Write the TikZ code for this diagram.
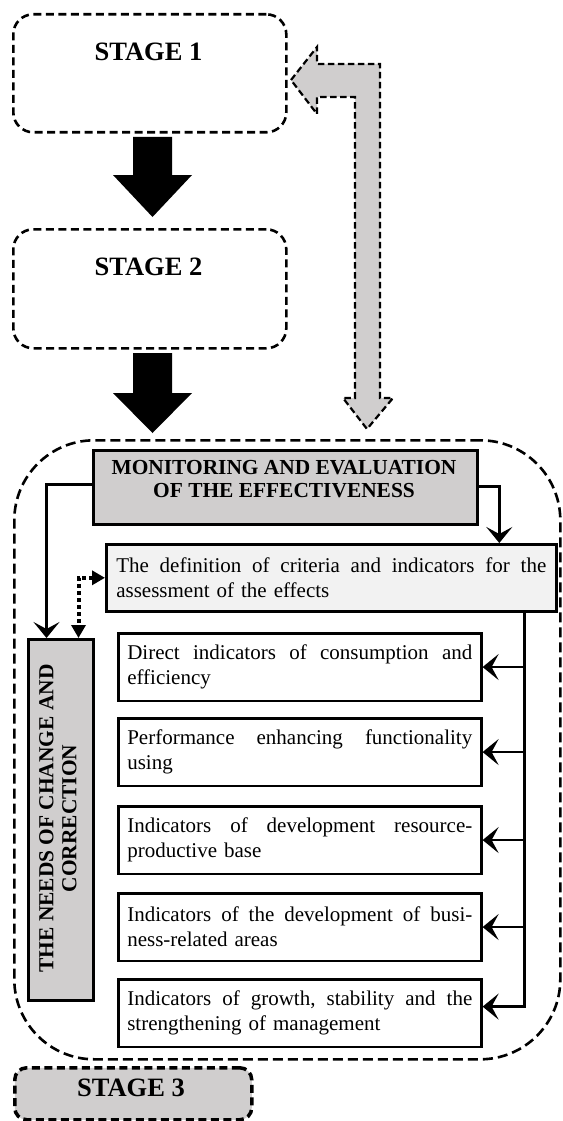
\documentclass[tikz,border=0pt]{standalone}
\usepackage{fontspec}
\setmainfont{Liberation Serif}
\usetikzlibrary{arrows.meta,calc}
\definecolor{boxgray}{RGB}{208,206,206}
\definecolor{lightfill}{RGB}{242,242,242}
\newcommand{\justline}[2][345pt]{\hbox to #1{#2}}
\begin{document}
\begin{tikzpicture}[x=1pt,y=-1pt,
  stagebox/.style={draw, line width=2.6pt, dash pattern=on 8pt off 4.5pt, rounded corners=20pt, inner sep=0pt, anchor=north west},
  solidbox/.style={draw, line width=2.6pt, inner sep=0pt, anchor=north west},
  stagetext/.style={font=\fontsize{26.5}{30}\selectfont\bfseries, inner sep=0pt},
  headtext/.style={font=\fontsize{21.4}{23}\selectfont\bfseries, align=center, inner sep=0pt},
  ind/.style={solidbox, text width=345pt, inner xsep=9pt, inner ysep=0pt, minimum height=67.5pt, align=left, font=\fontsize{21}{25}\selectfont},
  conn/.style={line width=2.5pt, -{Stealth[length=16pt,width=26pt,inset=7pt]}},
  dotconn/.style={line width=4pt, dash pattern=on 4pt off 3pt, {Triangle[length=13pt,width=14pt]}-{Triangle[length=13pt,width=14pt]}},
  blockarrow/.style={fill=black},
  grayarrow/.style={draw, fill=boxgray, line width=2.2pt, dash pattern=on 6.5pt off 3.5pt, line join=miter}
]
\useasboundingbox (0,0) rectangle (562,1121);

% outer container
\node[stagebox, rounded corners=80pt, dash pattern=on 10pt off 5pt, minimum width=546pt, minimum height=619pt] (cont) at (13,439) {};

% stages
\node[stagebox, minimum width=273pt, minimum height=118pt] (s1) at (12,13) {};
\node[stagetext] (s1t) at (148.5,51.5) {STAGE 1};
\node[stagebox, minimum width=273pt, minimum height=119pt] (s2) at (12,228) {};
\node[stagetext] (s2t) at (148.5,266.5) {STAGE 2};
\node[stagebox, fill=boxgray, line width=3.5pt, rounded corners=12pt, minimum width=237pt, minimum height=52pt] (s3) at (13,1066) {};
\node[stagetext] (s3t) at (131,1087.5) {STAGE 3};

% block arrows
\fill[blockarrow] (133,137) -- (172,137) -- (172,175) -- (192,175) -- (152.5,217) -- (113,175) -- (133,175) -- cycle;
\fill[blockarrow] (133,353) -- (172,353) -- (172,393) -- (192,393) -- (152.5,433) -- (113,393) -- (133,393) -- cycle;

% gray feedback arrow
\draw[grayarrow] (291,80) -- (317,47) -- (317,64) -- (380,64) -- (380,398) -- (393,398) -- (367,429) -- (343,398) -- (355,398) -- (355,97) -- (317,97) -- (317,114) -- cycle;

% monitoring
\node[solidbox, fill=boxgray, line width=3pt, minimum width=384pt, minimum height=74pt] (mon) at (92,449) {};
\node[headtext] (mont) at (284,479.5) {MONITORING AND EVALUATION\\OF THE EFFECTIVENESS};

% definition
\node[solidbox, fill=lightfill, text width=430pt, inner xsep=10pt, inner ysep=0pt, minimum height=67pt, align=left, font=\fontsize{21}{25}\selectfont] (def) at (105,543) {\justline[430pt]{The\hfill definition\hfill of\hfill criteria\hfill and\hfill indicators\hfill for\hfill the}\\assessment of the effects};

% needs
\node[solidbox, fill=boxgray, line width=3pt, minimum width=65pt, minimum height=361pt] (needs) at (27,638) {};
\node[headtext, rotate=90] (needst) at (58,818.5) {THE NEEDS OF CHANGE AND\\CORRECTION};

% indicators
\node[ind] (i1) at (117,632) {\justline{Direct\hfill indicators\hfill of\hfill consumption\hfill and}\\efficiency};
\node[ind] (i2) at (117,717) {\justline{Performance\hfill enhancing\hfill functionality}\\using};
\node[ind] (i3) at (117,805) {\justline{Indicators\hfill of\hfill development\hfill resource-}\\productive base};
\node[ind] (i4) at (117,892) {\justline{Indicators\hfill of\hfill the\hfill development\hfill of\hfill busi-}\\ness-related areas};
\node[ind] (i5) at (117,978) {\justline{Indicators\hfill of\hfill growth,\hfill stability\hfill and\hfill the}\\strengthening of management};

% connectors
\draw[conn] ([yshift=3pt]mon.west) -| ([xshift=-14.5pt]needs.north);
\draw[conn] ([yshift=1pt]mon.east) -| ([xshift=168pt]def.north);
\draw[dotconn] (def.west) -| ([xshift=17.5pt]needs.north);
\coordinate (bustop) at ([xshift=193pt]def.south);
\coordinate (busbot) at ($(bustop)+(0,394)$);
\draw[conn] (bustop) -- (busbot) -- (busbot -| i5.east);
\foreach \n in {i1,i2,i3,i4}{
  \draw[conn] (bustop |- \n.east) -- (\n.east);
}
\end{tikzpicture}
\end{document}
